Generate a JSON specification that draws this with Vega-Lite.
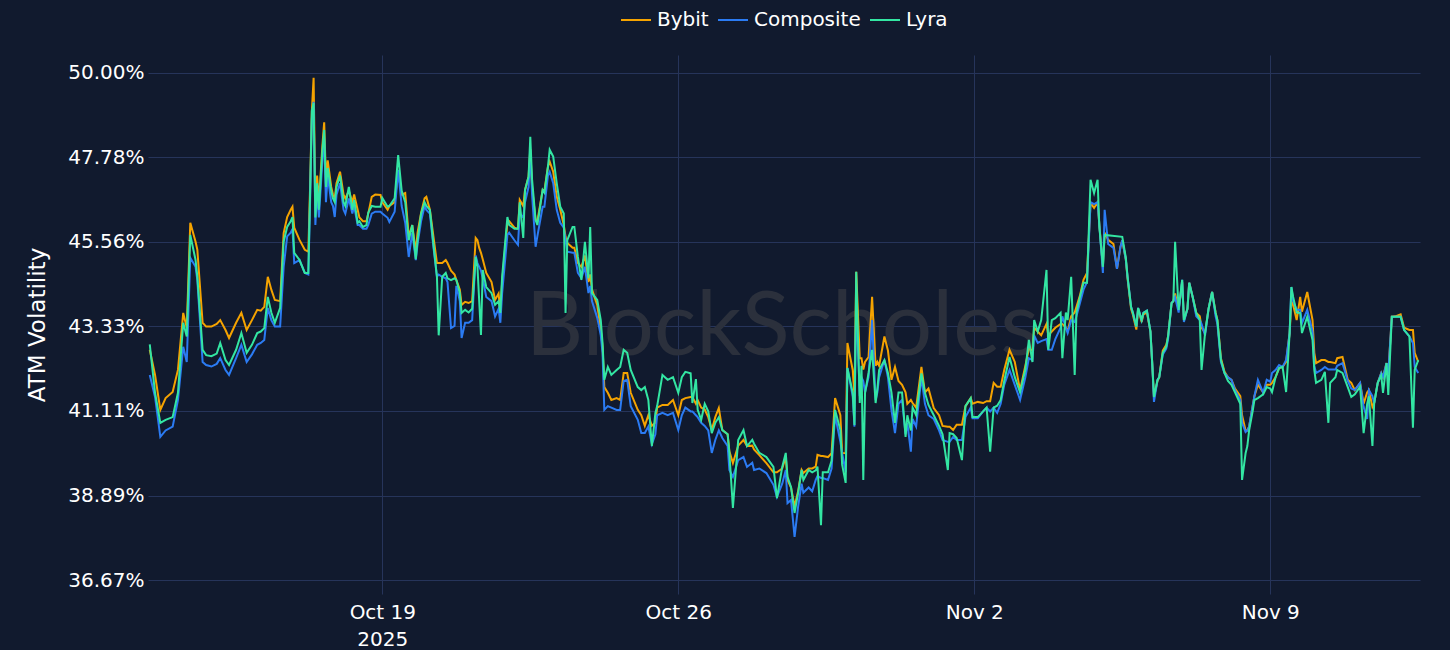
{
"$schema": "https://vega.github.io/schema/vega-lite/v6.json",
"width": 1272, "height": 539,
"autosize": {"type": "none"},
"padding": {"left": 148, "top": 55, "right": 30, "bottom": 56},
"background": "#111a2e",
"config": {"view": {"stroke": null}, "font": "DejaVu Sans"},
"layer": [
{
"data": {"values": [{"label": "BlockScholes"}]},
"mark": {"type": "text", "font": "Lato", "fontSize": 89, "color": "#2b303c", "align": "center", "baseline": "alphabetic"},
"encoding": {
"x": {"datum": {"year": 2025, "month": 10, "date": 28, "hours": 11, "utc": true}, "type": "temporal",
"scale": {"type": "utc", "nice": false, "domain": [{"year": 2025, "month": 10, "date": 13, "hours": 11, "utc": true}, {"year": 2025, "month": 11, "date": 12, "hours": 13, "utc": true}]}},
"y": {"datum": 42.58, "type": "quantitative", "scale": {"domain": [36.3, 50.47], "nice": false, "zero": false}},
"text": {"field": "label"}
}
},
{
"data": {"values": [
{"t":"2025-10-13T12:00Z","Bybit":42.72,"Composite":42.06,"Lyra":42.86},
{"t":"2025-10-13T15:00Z","Bybit":42.06,"Composite":41.48,"Lyra":41.59},
{"t":"2025-10-13T18:00Z","Bybit":41.14,"Composite":40.43,"Lyra":40.80},
{"t":"2025-10-13T21:00Z","Bybit":41.45,"Composite":40.60,"Lyra":40.88},
{"t":"2025-10-14T01:00Z","Bybit":41.61,"Composite":40.70,"Lyra":40.95},
{"t":"2025-10-14T04:00Z","Bybit":42.19,"Composite":41.40,"Lyra":41.59},
{"t":"2025-10-14T07:00Z","Bybit":43.69,"Composite":42.80,"Lyra":43.43},
{"t":"2025-10-14T09:00Z","Bybit":43.30,"Composite":42.40,"Lyra":43.07},
{"t":"2025-10-14T11:00Z","Bybit":46.06,"Composite":45.14,"Lyra":45.74},
{"t":"2025-10-14T14:00Z","Bybit":45.56,"Composite":44.90,"Lyra":45.08},
{"t":"2025-10-14T15:00Z","Bybit":45.35,"Composite":44.55,"Lyra":44.64},
{"t":"2025-10-14T18:00Z","Bybit":43.43,"Composite":42.40,"Lyra":42.72},
{"t":"2025-10-14T20:00Z","Bybit":43.33,"Composite":42.32,"Lyra":42.58},
{"t":"2025-10-14T23:00Z","Bybit":43.33,"Composite":42.28,"Lyra":42.55},
{"t":"2025-10-15T02:00Z","Bybit":43.40,"Composite":42.35,"Lyra":42.62},
{"t":"2025-10-15T04:00Z","Bybit":43.50,"Composite":42.50,"Lyra":42.90},
{"t":"2025-10-15T07:00Z","Bybit":43.24,"Composite":42.19,"Lyra":42.45},
{"t":"2025-10-15T09:00Z","Bybit":43.03,"Composite":42.06,"Lyra":42.32},
{"t":"2025-10-15T13:00Z","Bybit":43.43,"Composite":42.50,"Lyra":42.72},
{"t":"2025-10-15T16:00Z","Bybit":43.69,"Composite":42.85,"Lyra":43.16},
{"t":"2025-10-15T19:00Z","Bybit":43.24,"Composite":42.40,"Lyra":42.64},
{"t":"2025-10-15T22:00Z","Bybit":43.50,"Composite":42.60,"Lyra":42.85},
{"t":"2025-10-16T01:00Z","Bybit":43.77,"Composite":42.85,"Lyra":43.16},
{"t":"2025-10-16T03:00Z","Bybit":43.75,"Composite":42.90,"Lyra":43.20},
{"t":"2025-10-16T05:00Z","Bybit":43.85,"Composite":42.98,"Lyra":43.29},
{"t":"2025-10-16T07:00Z","Bybit":44.64,"Composite":43.82,"Lyra":44.11},
{"t":"2025-10-16T09:00Z","Bybit":44.30,"Composite":43.50,"Lyra":43.70},
{"t":"2025-10-16T11:00Z","Bybit":44.03,"Composite":43.33,"Lyra":43.43},
{"t":"2025-10-16T14:00Z","Bybit":44.00,"Composite":43.33,"Lyra":43.82},
{"t":"2025-10-16T16:00Z","Bybit":45.79,"Composite":44.90,"Lyra":45.56},
{"t":"2025-10-16T18:00Z","Bybit":46.21,"Composite":45.70,"Lyra":45.95},
{"t":"2025-10-16T20:00Z","Bybit":46.40,"Composite":45.80,"Lyra":46.10},
{"t":"2025-10-16T21:00Z","Bybit":46.48,"Composite":45.90,"Lyra":46.21},
{"t":"2025-10-16T22:00Z","Bybit":45.93,"Composite":45.00,"Lyra":45.27},
{"t":"2025-10-17T01:00Z","Bybit":45.61,"Composite":45.08,"Lyra":45.08},
{"t":"2025-10-17T04:00Z","Bybit":45.35,"Composite":44.74,"Lyra":44.74},
{"t":"2025-10-17T06:00Z","Bybit":45.30,"Composite":44.70,"Lyra":44.74},
{"t":"2025-10-17T07:00Z","Bybit":47.00,"Composite":46.60,"Lyra":46.80},
{"t":"2025-10-17T08:00Z","Bybit":49.00,"Composite":48.80,"Lyra":49.00},
{"t":"2025-10-17T09:00Z","Bybit":49.87,"Composite":49.24,"Lyra":49.21},
{"t":"2025-10-17T10:00Z","Bybit":46.50,"Composite":46.00,"Lyra":46.20},
{"t":"2025-10-17T11:00Z","Bybit":47.30,"Composite":46.90,"Lyra":47.10},
{"t":"2025-10-17T12:00Z","Bybit":46.60,"Composite":46.20,"Lyra":46.40},
{"t":"2025-10-17T14:00Z","Bybit":48.10,"Composite":47.70,"Lyra":47.97},
{"t":"2025-10-17T15:00Z","Bybit":48.70,"Composite":48.30,"Lyra":48.50},
{"t":"2025-10-17T16:00Z","Bybit":47.20,"Composite":46.60,"Lyra":47.00},
{"t":"2025-10-17T17:00Z","Bybit":47.70,"Composite":47.30,"Lyra":47.50},
{"t":"2025-10-17T19:00Z","Bybit":47.00,"Composite":46.60,"Lyra":46.90},
{"t":"2025-10-17T20:00Z","Bybit":46.80,"Composite":46.50,"Lyra":46.70},
{"t":"2025-10-17T21:00Z","Bybit":46.70,"Composite":46.21,"Lyra":46.60},
{"t":"2025-10-17T22:00Z","Bybit":47.10,"Composite":46.80,"Lyra":47.00},
{"t":"2025-10-18T00:00Z","Bybit":47.40,"Composite":47.10,"Lyra":47.30},
{"t":"2025-10-18T02:00Z","Bybit":46.80,"Composite":46.40,"Lyra":46.60},
{"t":"2025-10-18T03:00Z","Bybit":46.70,"Composite":46.30,"Lyra":46.50},
{"t":"2025-10-18T05:00Z","Bybit":46.90,"Composite":46.70,"Lyra":47.00},
{"t":"2025-10-18T07:00Z","Bybit":46.60,"Composite":46.30,"Lyra":46.40},
{"t":"2025-10-18T08:00Z","Bybit":46.80,"Composite":46.50,"Lyra":46.66},
{"t":"2025-10-18T10:00Z","Bybit":46.40,"Composite":46.00,"Lyra":46.06},
{"t":"2025-10-18T11:00Z","Bybit":46.20,"Composite":46.00,"Lyra":46.10},
{"t":"2025-10-18T13:00Z","Bybit":46.10,"Composite":45.90,"Lyra":45.95},
{"t":"2025-10-18T15:00Z","Bybit":46.10,"Composite":45.90,"Lyra":46.00},
{"t":"2025-10-18T16:00Z","Bybit":46.30,"Composite":46.00,"Lyra":46.32},
{"t":"2025-10-18T18:00Z","Bybit":46.74,"Composite":46.30,"Lyra":46.50},
{"t":"2025-10-18T20:00Z","Bybit":46.80,"Composite":46.35,"Lyra":46.48},
{"t":"2025-10-18T23:00Z","Bybit":46.79,"Composite":46.35,"Lyra":46.48},
{"t":"2025-10-19T00:00Z","Bybit":46.60,"Composite":46.30,"Lyra":46.71},
{"t":"2025-10-19T03:00Z","Bybit":46.40,"Composite":46.19,"Lyra":46.48},
{"t":"2025-10-19T04:00Z","Bybit":46.50,"Composite":46.08,"Lyra":46.50},
{"t":"2025-10-19T07:00Z","Bybit":46.60,"Composite":46.35,"Lyra":46.70},
{"t":"2025-10-19T09:00Z","Bybit":47.40,"Composite":47.45,"Lyra":47.84},
{"t":"2025-10-19T11:00Z","Bybit":46.80,"Composite":46.50,"Lyra":46.90},
{"t":"2025-10-19T13:00Z","Bybit":46.84,"Composite":46.06,"Lyra":46.60},
{"t":"2025-10-19T15:00Z","Bybit":45.70,"Composite":45.16,"Lyra":45.60},
{"t":"2025-10-19T17:00Z","Bybit":46.00,"Composite":45.80,"Lyra":46.00},
{"t":"2025-10-19T19:00Z","Bybit":45.30,"Composite":45.08,"Lyra":45.10},
{"t":"2025-10-19T20:00Z","Bybit":45.80,"Composite":45.50,"Lyra":45.60},
{"t":"2025-10-19T22:00Z","Bybit":46.32,"Composite":46.10,"Lyra":46.30},
{"t":"2025-10-20T00:00Z","Bybit":46.70,"Composite":46.50,"Lyra":46.60},
{"t":"2025-10-20T01:00Z","Bybit":46.74,"Composite":46.40,"Lyra":46.50},
{"t":"2025-10-20T03:00Z","Bybit":46.40,"Composite":46.30,"Lyra":46.40},
{"t":"2025-10-20T05:00Z","Bybit":45.70,"Composite":45.43,"Lyra":45.50},
{"t":"2025-10-20T07:00Z","Bybit":45.00,"Composite":44.64,"Lyra":44.64},
{"t":"2025-10-20T08:00Z","Bybit":45.00,"Composite":44.70,"Lyra":43.10},
{"t":"2025-10-20T10:00Z","Bybit":45.00,"Composite":44.64,"Lyra":44.64},
{"t":"2025-10-20T12:00Z","Bybit":45.08,"Composite":44.60,"Lyra":44.74},
{"t":"2025-10-20T13:00Z","Bybit":45.00,"Composite":44.50,"Lyra":44.60},
{"t":"2025-10-20T15:00Z","Bybit":44.80,"Composite":43.29,"Lyra":44.55},
{"t":"2025-10-20T17:00Z","Bybit":44.70,"Composite":43.35,"Lyra":44.60},
{"t":"2025-10-20T18:00Z","Bybit":44.56,"Composite":44.40,"Lyra":44.56},
{"t":"2025-10-20T20:00Z","Bybit":44.30,"Composite":44.00,"Lyra":44.21},
{"t":"2025-10-20T21:00Z","Bybit":43.90,"Composite":43.03,"Lyra":43.69},
{"t":"2025-10-20T23:00Z","Bybit":43.98,"Composite":43.43,"Lyra":43.77},
{"t":"2025-10-21T01:00Z","Bybit":43.95,"Composite":43.43,"Lyra":43.70},
{"t":"2025-10-21T03:00Z","Bybit":44.00,"Composite":43.50,"Lyra":43.80},
{"t":"2025-10-21T05:00Z","Bybit":45.66,"Composite":45.20,"Lyra":45.16},
{"t":"2025-10-21T06:00Z","Bybit":45.60,"Composite":45.00,"Lyra":44.90},
{"t":"2025-10-21T07:00Z","Bybit":45.40,"Composite":44.90,"Lyra":44.00},
{"t":"2025-10-21T08:00Z","Bybit":45.27,"Composite":44.80,"Lyra":43.11},
{"t":"2025-10-21T09:00Z","Bybit":45.10,"Composite":44.60,"Lyra":44.82},
{"t":"2025-10-21T11:00Z","Bybit":44.74,"Composite":44.11,"Lyra":44.37},
{"t":"2025-10-21T14:00Z","Bybit":44.50,"Composite":44.00,"Lyra":44.21},
{"t":"2025-10-21T16:00Z","Bybit":44.03,"Composite":43.60,"Lyra":43.90},
{"t":"2025-10-21T18:00Z","Bybit":44.20,"Composite":43.80,"Lyra":44.00},
{"t":"2025-10-21T19:00Z","Bybit":43.70,"Composite":43.43,"Lyra":43.69},
{"t":"2025-10-21T20:00Z","Bybit":44.50,"Composite":44.20,"Lyra":44.64},
{"t":"2025-10-21T23:00Z","Bybit":46.06,"Composite":45.74,"Lyra":46.21},
{"t":"2025-10-22T00:00Z","Bybit":46.10,"Composite":45.80,"Lyra":46.00},
{"t":"2025-10-22T03:00Z","Bybit":45.93,"Composite":45.60,"Lyra":45.90},
{"t":"2025-10-22T05:00Z","Bybit":45.90,"Composite":45.48,"Lyra":45.90},
{"t":"2025-10-22T06:00Z","Bybit":46.66,"Composite":46.30,"Lyra":46.60},
{"t":"2025-10-22T08:00Z","Bybit":46.50,"Composite":46.20,"Lyra":45.66},
{"t":"2025-10-22T09:00Z","Bybit":46.92,"Composite":46.60,"Lyra":46.92},
{"t":"2025-10-22T11:00Z","Bybit":47.27,"Composite":47.00,"Lyra":47.27},
{"t":"2025-10-22T12:00Z","Bybit":48.00,"Composite":47.98,"Lyra":48.32},
{"t":"2025-10-22T13:00Z","Bybit":47.00,"Composite":46.80,"Lyra":47.20},
{"t":"2025-10-22T15:00Z","Bybit":46.13,"Composite":45.43,"Lyra":46.13},
{"t":"2025-10-22T16:00Z","Bybit":46.10,"Composite":45.70,"Lyra":46.00},
{"t":"2025-10-22T19:00Z","Bybit":46.92,"Composite":46.48,"Lyra":46.92},
{"t":"2025-10-22T20:00Z","Bybit":46.90,"Composite":46.48,"Lyra":46.85},
{"t":"2025-10-22T22:00Z","Bybit":47.53,"Composite":47.30,"Lyra":47.53},
{"t":"2025-10-22T23:00Z","Bybit":47.67,"Composite":47.40,"Lyra":47.98},
{"t":"2025-10-23T01:00Z","Bybit":47.40,"Composite":47.10,"Lyra":47.80},
{"t":"2025-10-23T03:00Z","Bybit":46.74,"Composite":46.40,"Lyra":47.10},
{"t":"2025-10-23T05:00Z","Bybit":46.40,"Composite":46.06,"Lyra":46.48},
{"t":"2025-10-23T07:00Z","Bybit":46.00,"Composite":45.93,"Lyra":46.30},
{"t":"2025-10-23T08:00Z","Bybit":45.69,"Composite":45.60,"Lyra":43.69},
{"t":"2025-10-23T09:00Z","Bybit":45.53,"Composite":45.30,"Lyra":45.60},
{"t":"2025-10-23T12:00Z","Bybit":45.40,"Composite":45.27,"Lyra":45.95},
{"t":"2025-10-23T13:00Z","Bybit":45.40,"Composite":45.27,"Lyra":45.95},
{"t":"2025-10-23T15:00Z","Bybit":45.00,"Composite":44.74,"Lyra":45.16},
{"t":"2025-10-23T17:00Z","Bybit":44.90,"Composite":44.60,"Lyra":44.56},
{"t":"2025-10-23T19:00Z","Bybit":45.20,"Composite":44.90,"Lyra":45.56},
{"t":"2025-10-23T21:00Z","Bybit":44.50,"Composite":44.21,"Lyra":44.60},
{"t":"2025-10-23T22:00Z","Bybit":44.70,"Composite":44.40,"Lyra":45.95},
{"t":"2025-10-23T23:00Z","Bybit":44.30,"Composite":44.00,"Lyra":44.21},
{"t":"2025-10-24T02:00Z","Bybit":43.90,"Composite":43.56,"Lyra":44.03},
{"t":"2025-10-24T04:00Z","Bybit":43.24,"Composite":43.10,"Lyra":43.50},
{"t":"2025-10-24T05:00Z","Bybit":42.80,"Composite":42.64,"Lyra":42.90},
{"t":"2025-10-24T06:00Z","Bybit":41.74,"Composite":41.14,"Lyra":41.93},
{"t":"2025-10-24T08:00Z","Bybit":41.59,"Composite":41.24,"Lyra":42.27},
{"t":"2025-10-24T10:00Z","Bybit":41.40,"Composite":41.20,"Lyra":42.06},
{"t":"2025-10-24T13:00Z","Bybit":41.45,"Composite":41.14,"Lyra":42.19},
{"t":"2025-10-24T15:00Z","Bybit":41.40,"Composite":41.14,"Lyra":42.27},
{"t":"2025-10-24T17:00Z","Bybit":42.11,"Composite":41.90,"Lyra":42.72},
{"t":"2025-10-24T19:00Z","Bybit":42.11,"Composite":41.93,"Lyra":42.64},
{"t":"2025-10-24T21:00Z","Bybit":41.59,"Composite":41.24,"Lyra":42.19},
{"t":"2025-10-25T01:00Z","Bybit":41.14,"Composite":40.88,"Lyra":41.74},
{"t":"2025-10-25T03:00Z","Bybit":41.00,"Composite":40.53,"Lyra":41.66},
{"t":"2025-10-25T05:00Z","Bybit":40.72,"Composite":40.53,"Lyra":41.74},
{"t":"2025-10-25T07:00Z","Bybit":41.00,"Composite":40.70,"Lyra":41.40},
{"t":"2025-10-25T09:00Z","Bybit":40.72,"Composite":40.24,"Lyra":40.19},
{"t":"2025-10-25T11:00Z","Bybit":40.80,"Composite":40.50,"Lyra":41.06},
{"t":"2025-10-25T12:00Z","Bybit":41.20,"Composite":41.00,"Lyra":41.24},
{"t":"2025-10-25T15:00Z","Bybit":41.27,"Composite":41.06,"Lyra":42.06},
{"t":"2025-10-25T18:00Z","Bybit":41.27,"Composite":41.00,"Lyra":41.93},
{"t":"2025-10-25T21:00Z","Bybit":41.40,"Composite":41.06,"Lyra":42.00},
{"t":"2025-10-26T00:00Z","Bybit":41.00,"Composite":40.61,"Lyra":41.59},
{"t":"2025-10-26T02:00Z","Bybit":41.40,"Composite":41.00,"Lyra":42.00},
{"t":"2025-10-26T04:00Z","Bybit":41.45,"Composite":41.20,"Lyra":42.14},
{"t":"2025-10-26T07:00Z","Bybit":41.48,"Composite":41.10,"Lyra":42.10},
{"t":"2025-10-26T08:00Z","Bybit":41.48,"Composite":41.10,"Lyra":41.32},
{"t":"2025-10-26T10:00Z","Bybit":41.30,"Composite":41.00,"Lyra":41.95},
{"t":"2025-10-26T11:00Z","Bybit":41.40,"Composite":40.95,"Lyra":41.14},
{"t":"2025-10-26T13:00Z","Bybit":41.20,"Composite":40.80,"Lyra":40.88},
{"t":"2025-10-26T15:00Z","Bybit":41.15,"Composite":40.72,"Lyra":41.30},
{"t":"2025-10-26T17:00Z","Bybit":40.95,"Composite":40.60,"Lyra":41.10},
{"t":"2025-10-26T19:00Z","Bybit":40.61,"Composite":40.01,"Lyra":40.53},
{"t":"2025-10-26T21:00Z","Bybit":40.95,"Composite":40.35,"Lyra":40.80},
{"t":"2025-10-26T23:00Z","Bybit":41.19,"Composite":40.60,"Lyra":40.95},
{"t":"2025-10-27T01:00Z","Bybit":40.61,"Composite":40.40,"Lyra":40.61},
{"t":"2025-10-27T04:00Z","Bybit":40.50,"Composite":40.19,"Lyra":40.50},
{"t":"2025-10-27T05:00Z","Bybit":40.05,"Composite":39.56,"Lyra":40.01},
{"t":"2025-10-27T07:00Z","Bybit":39.74,"Composite":39.38,"Lyra":38.56},
{"t":"2025-10-27T10:00Z","Bybit":40.20,"Composite":39.82,"Lyra":40.35},
{"t":"2025-10-27T13:00Z","Bybit":40.35,"Composite":39.90,"Lyra":40.61},
{"t":"2025-10-27T15:00Z","Bybit":40.19,"Composite":39.64,"Lyra":40.19},
{"t":"2025-10-27T18:00Z","Bybit":40.20,"Composite":39.75,"Lyra":40.35},
{"t":"2025-10-27T19:00Z","Bybit":40.10,"Composite":39.56,"Lyra":40.25},
{"t":"2025-10-27T22:00Z","Bybit":39.95,"Composite":39.60,"Lyra":40.01},
{"t":"2025-10-28T02:00Z","Bybit":39.74,"Composite":39.48,"Lyra":39.90},
{"t":"2025-10-28T06:00Z","Bybit":39.50,"Composite":39.17,"Lyra":39.64},
{"t":"2025-10-28T08:00Z","Bybit":39.50,"Composite":38.85,"Lyra":38.82},
{"t":"2025-10-28T11:00Z","Bybit":39.60,"Composite":39.20,"Lyra":39.64},
{"t":"2025-10-28T13:00Z","Bybit":39.90,"Composite":39.56,"Lyra":40.01},
{"t":"2025-10-28T14:00Z","Bybit":39.30,"Composite":38.69,"Lyra":39.38},
{"t":"2025-10-28T16:00Z","Bybit":39.10,"Composite":38.77,"Lyra":39.11},
{"t":"2025-10-28T18:00Z","Bybit":38.60,"Composite":37.80,"Lyra":38.43},
{"t":"2025-10-28T20:00Z","Bybit":39.00,"Composite":38.59,"Lyra":38.96},
{"t":"2025-10-28T22:00Z","Bybit":39.56,"Composite":39.20,"Lyra":39.56},
{"t":"2025-10-28T23:00Z","Bybit":39.48,"Composite":38.96,"Lyra":39.30},
{"t":"2025-10-29T02:00Z","Bybit":39.60,"Composite":39.10,"Lyra":39.56},
{"t":"2025-10-29T04:00Z","Bybit":39.60,"Composite":39.00,"Lyra":39.50},
{"t":"2025-10-29T06:00Z","Bybit":39.65,"Composite":39.30,"Lyra":39.55},
{"t":"2025-10-29T07:00Z","Bybit":39.96,"Composite":39.40,"Lyra":39.65},
{"t":"2025-10-29T09:00Z","Bybit":39.93,"Composite":39.35,"Lyra":38.11},
{"t":"2025-10-29T10:00Z","Bybit":39.93,"Composite":39.35,"Lyra":39.50},
{"t":"2025-10-29T13:00Z","Bybit":39.90,"Composite":39.30,"Lyra":39.50},
{"t":"2025-10-29T15:00Z","Bybit":40.00,"Composite":39.60,"Lyra":39.80},
{"t":"2025-10-29T17:00Z","Bybit":41.45,"Composite":41.00,"Lyra":41.14},
{"t":"2025-10-29T20:00Z","Bybit":41.00,"Composite":40.30,"Lyra":40.61},
{"t":"2025-10-29T21:00Z","Bybit":40.01,"Composite":40.00,"Lyra":39.70},
{"t":"2025-10-29T23:00Z","Bybit":40.00,"Composite":39.50,"Lyra":39.22},
{"t":"2025-10-30T00:00Z","Bybit":42.90,"Composite":42.24,"Lyra":42.24},
{"t":"2025-10-30T03:00Z","Bybit":42.19,"Composite":41.50,"Lyra":41.59},
{"t":"2025-10-30T04:00Z","Bybit":41.50,"Composite":40.70,"Lyra":40.74},
{"t":"2025-10-30T05:00Z","Bybit":44.77,"Composite":44.00,"Lyra":44.77},
{"t":"2025-10-30T07:00Z","Bybit":42.50,"Composite":41.50,"Lyra":41.32},
{"t":"2025-10-30T08:00Z","Bybit":42.50,"Composite":42.00,"Lyra":42.30},
{"t":"2025-10-30T09:00Z","Bybit":42.20,"Composite":41.90,"Lyra":39.30},
{"t":"2025-10-30T10:00Z","Bybit":42.40,"Composite":41.60,"Lyra":41.59},
{"t":"2025-10-30T12:00Z","Bybit":42.53,"Composite":42.00,"Lyra":42.11},
{"t":"2025-10-30T14:00Z","Bybit":44.11,"Composite":43.50,"Lyra":42.72},
{"t":"2025-10-30T16:00Z","Bybit":42.30,"Composite":41.40,"Lyra":41.32},
{"t":"2025-10-30T17:00Z","Bybit":42.40,"Composite":41.60,"Lyra":41.70},
{"t":"2025-10-30T18:00Z","Bybit":42.30,"Composite":42.00,"Lyra":42.19},
{"t":"2025-10-30T21:00Z","Bybit":43.07,"Composite":42.45,"Lyra":42.45},
{"t":"2025-10-30T23:00Z","Bybit":42.70,"Composite":42.00,"Lyra":42.11},
{"t":"2025-10-31T01:00Z","Bybit":41.93,"Composite":41.14,"Lyra":41.60},
{"t":"2025-10-31T03:00Z","Bybit":42.27,"Composite":40.53,"Lyra":40.80},
{"t":"2025-10-31T05:00Z","Bybit":41.90,"Composite":41.30,"Lyra":41.60},
{"t":"2025-10-31T07:00Z","Bybit":41.80,"Composite":41.40,"Lyra":41.60},
{"t":"2025-10-31T09:00Z","Bybit":41.60,"Composite":40.50,"Lyra":40.43},
{"t":"2025-10-31T10:00Z","Bybit":41.30,"Composite":40.80,"Lyra":41.00},
{"t":"2025-10-31T12:00Z","Bybit":41.40,"Composite":40.04,"Lyra":40.60},
{"t":"2025-10-31T13:00Z","Bybit":41.32,"Composite":40.90,"Lyra":41.20},
{"t":"2025-10-31T15:00Z","Bybit":41.20,"Composite":40.70,"Lyra":41.00},
{"t":"2025-10-31T18:00Z","Bybit":42.27,"Composite":42.00,"Lyra":42.10},
{"t":"2025-10-31T20:00Z","Bybit":41.60,"Composite":41.30,"Lyra":41.59},
{"t":"2025-10-31T22:00Z","Bybit":41.70,"Composite":41.00,"Lyra":41.27},
{"t":"2025-11-01T01:00Z","Bybit":41.19,"Composite":40.90,"Lyra":41.00},
{"t":"2025-11-01T04:00Z","Bybit":41.00,"Composite":40.60,"Lyra":40.72},
{"t":"2025-11-01T06:00Z","Bybit":40.72,"Composite":40.35,"Lyra":40.50},
{"t":"2025-11-01T09:00Z","Bybit":40.70,"Composite":40.30,"Lyra":39.56},
{"t":"2025-11-01T10:00Z","Bybit":40.70,"Composite":40.30,"Lyra":40.53},
{"t":"2025-11-01T12:00Z","Bybit":40.61,"Composite":40.43,"Lyra":40.50},
{"t":"2025-11-01T14:00Z","Bybit":40.75,"Composite":40.35,"Lyra":40.40},
{"t":"2025-11-01T17:00Z","Bybit":40.75,"Composite":40.35,"Lyra":39.82},
{"t":"2025-11-01T19:00Z","Bybit":41.24,"Composite":40.95,"Lyra":41.24},
{"t":"2025-11-01T22:00Z","Bybit":41.45,"Composite":41.20,"Lyra":41.45},
{"t":"2025-11-01T23:00Z","Bybit":41.30,"Composite":40.92,"Lyra":40.95},
{"t":"2025-11-02T02:00Z","Bybit":41.35,"Composite":40.92,"Lyra":40.95},
{"t":"2025-11-02T05:00Z","Bybit":41.32,"Composite":41.10,"Lyra":41.10},
{"t":"2025-11-02T07:00Z","Bybit":41.37,"Composite":41.20,"Lyra":41.20},
{"t":"2025-11-02T09:00Z","Bybit":41.37,"Composite":41.10,"Lyra":40.04},
{"t":"2025-11-02T11:00Z","Bybit":41.85,"Composite":41.20,"Lyra":41.20},
{"t":"2025-11-02T13:00Z","Bybit":41.75,"Composite":41.06,"Lyra":41.25},
{"t":"2025-11-02T15:00Z","Bybit":41.75,"Composite":41.30,"Lyra":41.40},
{"t":"2025-11-02T17:00Z","Bybit":42.19,"Composite":41.80,"Lyra":41.90},
{"t":"2025-11-02T20:00Z","Bybit":42.72,"Composite":42.19,"Lyra":42.53},
{"t":"2025-11-02T23:00Z","Bybit":42.40,"Composite":41.80,"Lyra":42.00},
{"t":"2025-11-03T02:00Z","Bybit":41.66,"Composite":41.40,"Lyra":41.60},
{"t":"2025-11-03T05:00Z","Bybit":42.30,"Composite":42.00,"Lyra":42.20},
{"t":"2025-11-03T07:00Z","Bybit":42.75,"Composite":42.50,"Lyra":42.98},
{"t":"2025-11-03T09:00Z","Bybit":42.70,"Composite":42.45,"Lyra":42.40},
{"t":"2025-11-03T10:00Z","Bybit":43.30,"Composite":43.10,"Lyra":43.50},
{"t":"2025-11-03T12:00Z","Bybit":43.20,"Composite":42.90,"Lyra":43.20},
{"t":"2025-11-03T14:00Z","Bybit":43.10,"Composite":42.95,"Lyra":43.50},
{"t":"2025-11-03T17:00Z","Bybit":43.40,"Composite":43.00,"Lyra":44.82},
{"t":"2025-11-03T18:00Z","Bybit":43.10,"Composite":42.72,"Lyra":42.72},
{"t":"2025-11-03T20:00Z","Bybit":43.20,"Composite":42.72,"Lyra":43.50},
{"t":"2025-11-03T22:00Z","Bybit":43.30,"Composite":43.00,"Lyra":43.55},
{"t":"2025-11-04T01:00Z","Bybit":43.40,"Composite":43.30,"Lyra":43.69},
{"t":"2025-11-04T02:00Z","Bybit":43.40,"Composite":43.60,"Lyra":42.50},
{"t":"2025-11-04T04:00Z","Bybit":43.30,"Composite":43.30,"Lyra":43.70},
{"t":"2025-11-04T05:00Z","Bybit":43.20,"Composite":43.16,"Lyra":43.50},
{"t":"2025-11-04T07:00Z","Bybit":43.60,"Composite":43.50,"Lyra":44.64},
{"t":"2025-11-04T09:00Z","Bybit":43.70,"Composite":43.45,"Lyra":42.06},
{"t":"2025-11-04T10:00Z","Bybit":43.85,"Composite":43.60,"Lyra":43.70},
{"t":"2025-11-04T12:00Z","Bybit":44.15,"Composite":43.95,"Lyra":44.11},
{"t":"2025-11-04T14:00Z","Bybit":44.56,"Composite":44.30,"Lyra":44.48},
{"t":"2025-11-04T16:00Z","Bybit":44.74,"Composite":44.50,"Lyra":44.48},
{"t":"2025-11-04T18:00Z","Bybit":46.58,"Composite":46.60,"Lyra":47.19},
{"t":"2025-11-04T20:00Z","Bybit":46.45,"Composite":46.55,"Lyra":46.84},
{"t":"2025-11-04T22:00Z","Bybit":46.60,"Composite":46.60,"Lyra":47.19},
{"t":"2025-11-04T23:00Z","Bybit":46.00,"Composite":46.00,"Lyra":45.95},
{"t":"2025-11-05T01:00Z","Bybit":44.90,"Composite":44.74,"Lyra":44.90},
{"t":"2025-11-05T02:00Z","Bybit":45.80,"Composite":46.40,"Lyra":45.74},
{"t":"2025-11-05T04:00Z","Bybit":45.61,"Composite":45.50,"Lyra":null},
{"t":"2025-11-05T07:00Z","Bybit":45.50,"Composite":45.40,"Lyra":null},
{"t":"2025-11-05T09:00Z","Bybit":44.85,"Composite":44.85,"Lyra":null},
{"t":"2025-11-05T11:00Z","Bybit":45.43,"Composite":45.43,"Lyra":null},
{"t":"2025-11-05T12:00Z","Bybit":45.60,"Composite":45.60,"Lyra":45.69},
{"t":"2025-11-05T14:00Z","Bybit":45.10,"Composite":45.10,"Lyra":45.15},
{"t":"2025-11-05T15:00Z","Bybit":44.60,"Composite":44.64,"Lyra":44.64},
{"t":"2025-11-05T17:00Z","Bybit":43.80,"Composite":43.85,"Lyra":43.85},
{"t":"2025-11-05T18:00Z","Bybit":43.65,"Composite":43.70,"Lyra":43.70},
{"t":"2025-11-05T20:00Z","Bybit":43.25,"Composite":43.33,"Lyra":43.33},
{"t":"2025-11-05T21:00Z","Bybit":43.80,"Composite":43.82,"Lyra":43.82},
{"t":"2025-11-05T23:00Z","Bybit":43.45,"Composite":43.50,"Lyra":43.50},
{"t":"2025-11-06T00:00Z","Bybit":43.65,"Composite":43.69,"Lyra":43.69},
{"t":"2025-11-06T02:00Z","Bybit":43.70,"Composite":43.75,"Lyra":43.75},
{"t":"2025-11-06T04:00Z","Bybit":43.20,"Composite":43.20,"Lyra":43.20},
{"t":"2025-11-06T05:00Z","Bybit":42.37,"Composite":42.37,"Lyra":42.37},
{"t":"2025-11-06T06:00Z","Bybit":41.48,"Composite":41.35,"Lyra":41.48},
{"t":"2025-11-06T08:00Z","Bybit":41.90,"Composite":41.93,"Lyra":41.93},
{"t":"2025-11-06T09:00Z","Bybit":42.00,"Composite":42.00,"Lyra":42.00},
{"t":"2025-11-06T11:00Z","Bybit":42.70,"Composite":42.60,"Lyra":42.64},
{"t":"2025-11-06T13:00Z","Bybit":42.85,"Composite":42.75,"Lyra":42.80},
{"t":"2025-11-06T14:00Z","Bybit":43.07,"Composite":43.00,"Lyra":43.07},
{"t":"2025-11-06T16:00Z","Bybit":43.95,"Composite":43.95,"Lyra":43.95},
{"t":"2025-11-06T17:00Z","Bybit":44.00,"Composite":44.00,"Lyra":44.00},
{"t":"2025-11-06T18:00Z","Bybit":44.20,"Composite":44.10,"Lyra":45.56},
{"t":"2025-11-06T20:00Z","Bybit":43.77,"Composite":43.70,"Lyra":43.77},
{"t":"2025-11-06T22:00Z","Bybit":44.50,"Composite":44.56,"Lyra":44.56},
{"t":"2025-11-06T23:00Z","Bybit":43.50,"Composite":43.45,"Lyra":43.50},
{"t":"2025-11-07T01:00Z","Bybit":43.80,"Composite":43.80,"Lyra":43.80},
{"t":"2025-11-07T02:00Z","Bybit":44.48,"Composite":44.48,"Lyra":44.48},
{"t":"2025-11-07T04:00Z","Bybit":44.10,"Composite":44.10,"Lyra":44.10},
{"t":"2025-11-07T06:00Z","Bybit":43.69,"Composite":43.60,"Lyra":43.69},
{"t":"2025-11-07T08:00Z","Bybit":43.60,"Composite":43.50,"Lyra":43.50},
{"t":"2025-11-07T09:00Z","Bybit":43.30,"Composite":43.40,"Lyra":42.19},
{"t":"2025-11-07T11:00Z","Bybit":43.16,"Composite":43.10,"Lyra":43.16},
{"t":"2025-11-07T13:00Z","Bybit":43.80,"Composite":43.80,"Lyra":43.80},
{"t":"2025-11-07T15:00Z","Bybit":44.24,"Composite":44.24,"Lyra":44.24},
{"t":"2025-11-07T17:00Z","Bybit":43.69,"Composite":43.60,"Lyra":43.69},
{"t":"2025-11-07T18:00Z","Bybit":43.50,"Composite":43.40,"Lyra":43.50},
{"t":"2025-11-07T20:00Z","Bybit":42.50,"Composite":42.40,"Lyra":42.45},
{"t":"2025-11-07T22:00Z","Bybit":42.15,"Composite":42.11,"Lyra":42.11},
{"t":"2025-11-08T00:00Z","Bybit":42.00,"Composite":42.00,"Lyra":41.90},
{"t":"2025-11-08T02:00Z","Bybit":41.93,"Composite":41.93,"Lyra":41.80},
{"t":"2025-11-08T04:00Z","Bybit":41.70,"Composite":41.66,"Lyra":41.60},
{"t":"2025-11-08T07:00Z","Bybit":41.50,"Composite":41.40,"Lyra":41.30},
{"t":"2025-11-08T08:00Z","Bybit":41.00,"Composite":40.80,"Lyra":39.30},
{"t":"2025-11-08T10:00Z","Bybit":40.60,"Composite":40.56,"Lyra":40.00},
{"t":"2025-11-08T11:00Z","Bybit":40.60,"Composite":40.60,"Lyra":40.19},
{"t":"2025-11-08T12:00Z","Bybit":40.70,"Composite":40.70,"Lyra":40.60},
{"t":"2025-11-08T14:00Z","Bybit":41.24,"Composite":41.24,"Lyra":41.10},
{"t":"2025-11-08T15:00Z","Bybit":41.50,"Composite":41.50,"Lyra":41.40},
{"t":"2025-11-08T17:00Z","Bybit":41.80,"Composite":41.93,"Lyra":41.45},
{"t":"2025-11-08T20:00Z","Bybit":41.60,"Composite":41.59,"Lyra":41.55},
{"t":"2025-11-08T22:00Z","Bybit":41.80,"Composite":41.93,"Lyra":41.74},
{"t":"2025-11-09T00:00Z","Bybit":41.80,"Composite":41.88,"Lyra":41.70},
{"t":"2025-11-09T01:00Z","Bybit":41.85,"Composite":42.11,"Lyra":41.61},
{"t":"2025-11-09T03:00Z","Bybit":42.00,"Composite":42.19,"Lyra":42.00},
{"t":"2025-11-09T05:00Z","Bybit":42.24,"Composite":42.32,"Lyra":42.24},
{"t":"2025-11-09T07:00Z","Bybit":42.27,"Composite":42.27,"Lyra":42.27},
{"t":"2025-11-09T09:00Z","Bybit":42.40,"Composite":42.45,"Lyra":41.61},
{"t":"2025-11-09T11:00Z","Bybit":43.16,"Composite":43.16,"Lyra":43.16},
{"t":"2025-11-09T12:00Z","Bybit":44.00,"Composite":44.37,"Lyra":44.37},
{"t":"2025-11-09T13:00Z","Bybit":43.90,"Composite":44.00,"Lyra":44.11},
{"t":"2025-11-09T15:00Z","Bybit":43.50,"Composite":43.77,"Lyra":43.70},
{"t":"2025-11-09T17:00Z","Bybit":44.11,"Composite":43.77,"Lyra":43.69},
{"t":"2025-11-09T18:00Z","Bybit":43.72,"Composite":43.42,"Lyra":43.16},
{"t":"2025-11-09T21:00Z","Bybit":44.24,"Composite":43.77,"Lyra":43.59},
{"t":"2025-11-10T00:00Z","Bybit":43.50,"Composite":43.20,"Lyra":42.98},
{"t":"2025-11-10T01:00Z","Bybit":42.64,"Composite":42.30,"Lyra":42.19},
{"t":"2025-11-10T02:00Z","Bybit":42.37,"Composite":42.11,"Lyra":41.85},
{"t":"2025-11-10T05:00Z","Bybit":42.45,"Composite":42.19,"Lyra":41.93},
{"t":"2025-11-10T07:00Z","Bybit":42.45,"Composite":42.27,"Lyra":42.14},
{"t":"2025-11-10T09:00Z","Bybit":42.40,"Composite":42.20,"Lyra":40.80},
{"t":"2025-11-10T10:00Z","Bybit":42.40,"Composite":42.20,"Lyra":41.85},
{"t":"2025-11-10T13:00Z","Bybit":42.37,"Composite":42.20,"Lyra":42.00},
{"t":"2025-11-10T14:00Z","Bybit":42.50,"Composite":42.30,"Lyra":42.19},
{"t":"2025-11-10T17:00Z","Bybit":42.53,"Composite":42.37,"Lyra":42.11},
{"t":"2025-11-10T20:00Z","Bybit":41.93,"Composite":41.90,"Lyra":41.74},
{"t":"2025-11-10T22:00Z","Bybit":41.85,"Composite":41.70,"Lyra":41.48},
{"t":"2025-11-11T00:00Z","Bybit":41.66,"Composite":41.66,"Lyra":41.55},
{"t":"2025-11-11T03:00Z","Bybit":41.85,"Composite":41.85,"Lyra":41.75},
{"t":"2025-11-11T05:00Z","Bybit":41.30,"Composite":41.22,"Lyra":40.53},
{"t":"2025-11-11T07:00Z","Bybit":41.60,"Composite":40.90,"Lyra":41.30},
{"t":"2025-11-11T08:00Z","Bybit":41.66,"Composite":41.66,"Lyra":41.50},
{"t":"2025-11-11T10:00Z","Bybit":41.22,"Composite":41.50,"Lyra":40.19},
{"t":"2025-11-11T11:00Z","Bybit":41.32,"Composite":41.32,"Lyra":41.32},
{"t":"2025-11-11T13:00Z","Bybit":41.85,"Composite":41.85,"Lyra":41.85},
{"t":"2025-11-11T15:00Z","Bybit":42.11,"Composite":42.11,"Lyra":42.05},
{"t":"2025-11-11T16:00Z","Bybit":42.00,"Composite":42.00,"Lyra":41.59},
{"t":"2025-11-11T18:00Z","Bybit":42.37,"Composite":42.37,"Lyra":42.37},
{"t":"2025-11-11T19:00Z","Bybit":42.10,"Composite":42.10,"Lyra":41.53},
{"t":"2025-11-11T21:00Z","Bybit":43.59,"Composite":43.59,"Lyra":43.59},
{"t":"2025-11-11T23:00Z","Bybit":43.60,"Composite":43.59,"Lyra":43.59},
{"t":"2025-11-12T02:00Z","Bybit":43.65,"Composite":43.59,"Lyra":43.59},
{"t":"2025-11-12T04:00Z","Bybit":43.30,"Composite":43.24,"Lyra":43.24},
{"t":"2025-11-12T07:00Z","Bybit":43.24,"Composite":43.07,"Lyra":43.07},
{"t":"2025-11-12T09:00Z","Bybit":43.24,"Composite":42.90,"Lyra":40.67},
{"t":"2025-11-12T10:00Z","Bybit":42.64,"Composite":42.27,"Lyra":42.20},
{"t":"2025-11-12T12:00Z","Bybit":42.40,"Composite":42.11,"Lyra":42.45}
]},
"transform": [
{"fold": ["Bybit", "Composite", "Lyra"], "as": ["series", "v"]},
{"filter": "isValid(datum.v)"}
],
"mark": {"type": "line", "strokeWidth": 2, "interpolate": "linear"},
"encoding": {
"x": {"field": "t", "type": "temporal",
"scale": {"type": "utc", "nice": false, "domain": [{"year": 2025, "month": 10, "date": 13, "hours": 11, "utc": true}, {"year": 2025, "month": 11, "date": 12, "hours": 13, "utc": true}]},
"axis": {"title": null, "grid": true, "gridColor": "#26345a", "gridWidth": 1, "domain": false, "ticks": false,
"values": [{"year": 2025, "month": 10, "date": 19, "utc": true}, {"year": 2025, "month": 10, "date": 26, "utc": true}, {"year": 2025, "month": 11, "date": 2, "utc": true}, {"year": 2025, "month": 11, "date": 9, "utc": true}],
"labelExpr": "utcFormat(datum.value, '%b %-d') == 'Oct 19' ? ['Oct 19', '2025'] : utcFormat(datum.value, '%b %-d')",
"labelFont": "DejaVu Sans", "labelFontSize": 20, "labelColor": "#ffffff", "labelPadding": 8, "labelLineHeight": 27, "labelFlush": false, "labelOverlap": false, "labelBaseline": "top"}},
"y": {"field": "v", "type": "quantitative",
"scale": {"domain": [36.3, 50.47], "nice": false, "zero": false},
"axis": {"title": "ATM Volatility", "titleFont": "DejaVu Sans", "titleFontSize": 23, "titleFontWeight": "normal", "titleColor": "#ffffff", "titlePadding": 18,
"grid": true, "gridColor": "#26345a", "gridWidth": 1, "domain": false, "ticks": false,
"values": [36.6667, 38.8889, 41.1111, 43.3333, 45.5556, 47.7778, 50],
"labelExpr": "format(datum.value, '.2f') + '%'",
"labelFont": "DejaVu Sans", "labelFontSize": 20, "labelColor": "#ffffff", "labelPadding": 4}},
"color": {"field": "series", "type": "nominal",
"scale": {"domain": ["Bybit", "Composite", "Lyra"], "range": ["#f5a300", "#2b7bf3", "#33e6a3"]},
"legend": {"title": null, "orient": "none", "legendX": 472, "legendY": -51, "direction": "horizontal",
"symbolType": "stroke", "symbolSize": 900, "symbolStrokeWidth": 2, "labelFont": "DejaVu Sans", "labelFontSize": 20, "labelColor": "#ffffff", "columnPadding": 5, "labelOffset": 5, "padding": 0}}
}
}
]
}
